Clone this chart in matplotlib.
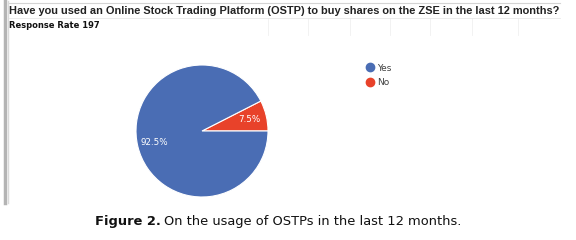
import matplotlib
matplotlib.use("Agg")
import matplotlib.pyplot as plt
from matplotlib.lines import Line2D

W, H = 576, 240
categories = ["Yes", "No"]
shares = [92.5, 7.5]
colors = {"Yes": "#4a6db4", "No": "#e8422a"}
title = "Have you used an Online Stock Trading Platform (OSTP) to buy shares on the ZSE in the last 12 months?"
subtitle = "Response Rate 197"
cap_bold = "Figure 2."
cap_rest = "On the usage of OSTPs in the last 12 months."

fig = plt.figure(figsize=(W / 100, H / 100), dpi=100)
ax = fig.add_axes([0, 0, 1, 1])
ax.axis("off")


def fit(t, width):
    # shrink/grow a text until it spans the given pixel width
    fig.canvas.draw()
    w = t.get_window_extent().width
    t.set_fontsize(t.get_fontsize() * width / w)


# spreadsheet frame bits
for gx in [268, 308, 350, 390, 430, 472, 518]:
    ax.plot([gx, gx], [H - 18, H - 35], color="#f0f0f0", lw=0.6)
ax.plot([8, 560], [H - 3, H - 3], color="#d4d4d4", lw=0.8)
ax.plot([8, 560], [H - 18, H - 18], color="#e8e8e8", lw=0.6)
ax.plot([5, 5], [H - 1, H - 203], color="#b4b4b4", lw=2.5)
ax.plot([7.5, 7.5], [H - 1, H - 203], color="#dadada", lw=1)

# pie: No first so it sits from 0 to 27 degrees
order = ["No", "Yes"]
vals = [shares[categories.index(c)] for c in order]
wedges, texts, autotexts = ax.pie(
    vals, colors=[colors[c] for c in order], startangle=0, counterclock=True,
    center=(202, H - 131), radius=66, autopct="%.1f%%", pctdistance=0.74,
    wedgeprops=dict(edgecolor="white", linewidth=0.8),
    textprops=dict(color="white", fontsize=6.3))
ax.set_xlim(0, W); ax.set_ylim(0, H); ax.set_aspect("auto")

handles = [Line2D([], [], marker="o", ls="", color=colors[c], markersize=6) for c in categories]
ax.legend(handles, categories, loc="upper left", bbox_to_anchor=(360 / W, 1 - 59 / H),
          frameon=False, fontsize=6.5, handletextpad=0.2, labelspacing=0.6,
          labelcolor="#404040", borderpad=0, handlelength=1.2)

t = ax.text(9, H - 11, title, fontsize=8.6, fontweight="bold", color="#222222",
            va="center", ha="left", family="Liberation Sans")
fit(t, 547)
ax.text(9, H - 26, subtitle, fontsize=6.0, fontweight="bold", color="#111111",
        va="center", ha="left", family="DejaVu Sans Condensed")

c1 = ax.text(0, H - 222, cap_bold, fontsize=10, fontweight="bold", color="#111111",
             va="center", ha="left", family="DejaVu Sans Condensed")
c2 = ax.text(0, H - 222, cap_rest, fontsize=10, color="#111111",
             va="center", ha="left", family="DejaVu Sans Condensed")
fig.canvas.draw()
w1 = c1.get_window_extent().width
w2 = c2.get_window_extent().width
k = 365 / (w1 + w2 + 3)
c1.set_fontsize(10 * k); c2.set_fontsize(10 * k)
fig.canvas.draw()
w1 = c1.get_window_extent().width
c1.set_x(95)
c2.set_x(95 + w1 + 3)

fig.savefig("out.png", dpi=100, facecolor="white")
